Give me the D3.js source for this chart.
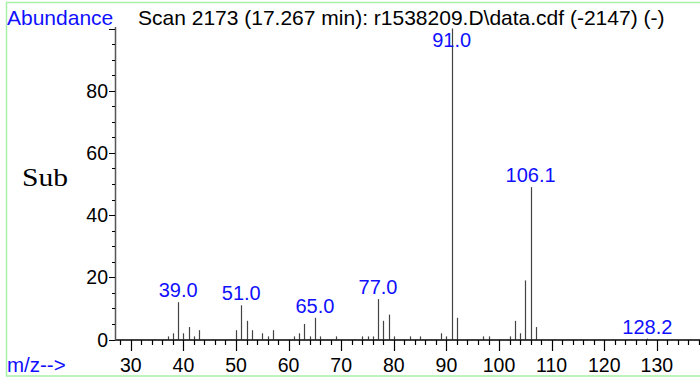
<!DOCTYPE html>
<html><head><meta charset="utf-8">
<script src="https://cdn.jsdelivr.net/npm/d3@7"></script>
<style>body{margin:0;background:#fff}svg{display:block}</style>
</head><body>
<script>
// Data
const mzValues = [37,38,39,40,41,42,43,50,51,52,53,55,56,57,61,62,63,64,65,66,69,74,75,76,77,78,79,80,83,85,89,90,91,92,97,98,102,103,104,105,106,107,128.2];
const abundance = [1,2,12,2,4,1,3,3,11,6,3,2,1,3,1,2,5,1,7,1,1,1,1,1,13,6,8,1,1,1,2,1,100,7,1,1,1,6,2,19,49,4,0.3];
const labelMz = [39,51,65,77,91,106,128.2];
const labelText = ["39.0","51.0","65.0","77.0","91.0","106.1","128.2"];
const xMajorTicks = [30,40,50,60,70,80,90,100,110,120,130];
const yMajorTicks = [0,20,40,60,80];
const titleText = "Scan 2173 (17.267 min): r1538209.D\\data.cdf (-2147) (-)";

const W = 700, H = 377;
const svg = d3.select("body").append("svg").attr("width", W).attr("height", H);
const x = d3.scaleLinear().domain([27, 138.2]).range([115, 700]);
const y = d3.scaleLinear().domain([0, 100]).range([339.5, 28.5]);
const sans = "'Liberation Sans', Arial, sans-serif";

// border
svg.append("path").attr("d", "M703,2.5 H6.5 V376 H703").attr("fill","none").attr("stroke","#a8f0a8").attr("stroke-width",1.5);

// peaks
svg.append("g").selectAll("line").data(mzValues).join("line")
  .attr("x1", d => Math.round(x(d)) + 0.5).attr("x2", d => Math.round(x(d)) + 0.5)
  .attr("y1", y(0)).attr("y2", (d, i) => y(abundance[i]))
  .attr("stroke", "#444").attr("stroke-width", 1.2);

// x axis
const gx = svg.append("g");
gx.append("line").attr("x1", 115).attr("x2", 700).attr("y1", 340).attr("y2", 340).attr("stroke","#000").attr("stroke-width",1.3);
const minorX = d3.range(28, 139, 2);
gx.selectAll("line.mn").data(minorX).join("line").attr("class","mn")
  .attr("x1", d => Math.round(x(d)) + 0.5).attr("x2", d => Math.round(x(d)) + 0.5)
  .attr("y1", 340).attr("y2", d => d % 10 === 0 ? 351 : 345)
  .attr("stroke","#000").attr("stroke-width",1.2);
gx.selectAll("text").data(xMajorTicks).join("text")
  .attr("x", d => x(d)).attr("y", 372).attr("text-anchor","middle")
  .attr("font-family", sans).attr("font-size", 19.5).attr("fill","#000").text(d => d);

// y axis
const gy = svg.append("g");
gy.append("line").attr("x1", 115.5).attr("x2", 115.5).attr("y1", 27).attr("y2", 340).attr("stroke","#555").attr("stroke-width",1.5);
const minorY = d3.range(0, 101, 5);
gy.selectAll("line.mn").data(minorY).join("line").attr("class","mn")
  .attr("x1", d => d % 20 === 0 ? 109 : 112).attr("x2", 115)
  .attr("y1", d => Math.round(y(d)) + 0.5).attr("y2", d => Math.round(y(d)) + 0.5)
  .attr("stroke","#000").attr("stroke-width",1);
gy.selectAll("text").data(yMajorTicks).join("text")
  .attr("x", 108).attr("y", d => y(d) + 7).attr("text-anchor","end")
  .attr("font-family", sans).attr("font-size", 19.5).attr("fill","#000").text(d => d);

// peak labels
svg.append("g").selectAll("text").data(labelMz).join("text")
  .attr("x", d => x(d)).attr("y", (d, i) => Math.max(y(abundance[mzValues.indexOf(d)]) - 5, 46.5))
  .attr("text-anchor","middle").attr("font-family", sans).attr("font-size", 20)
  .attr("fill","#1010ff").text((d, i) => labelText[i]);

// header texts
svg.append("text").attr("x", 7).attr("y", 25).attr("font-family", sans).attr("font-size", 21)
  .attr("fill","#1010ff").text("Abundance");
svg.append("text").attr("x", 138).attr("y", 25).attr("font-family", sans).attr("font-size", 21)
  .attr("fill","#000").text(titleText);
svg.append("text").attr("x", 7).attr("y", 372).attr("font-family", sans).attr("font-size", 20.5)
  .attr("fill","#1010ff").text("m/z-->");
svg.append("text").attr("x", 22).attr("y", 186).attr("font-family", "'Liberation Serif', 'DejaVu Serif', serif").attr("font-size", 25)
  .attr("textLength", 46).attr("lengthAdjust", "spacingAndGlyphs")
  .attr("fill","#000").text("Sub");
</script>
</body></html>
